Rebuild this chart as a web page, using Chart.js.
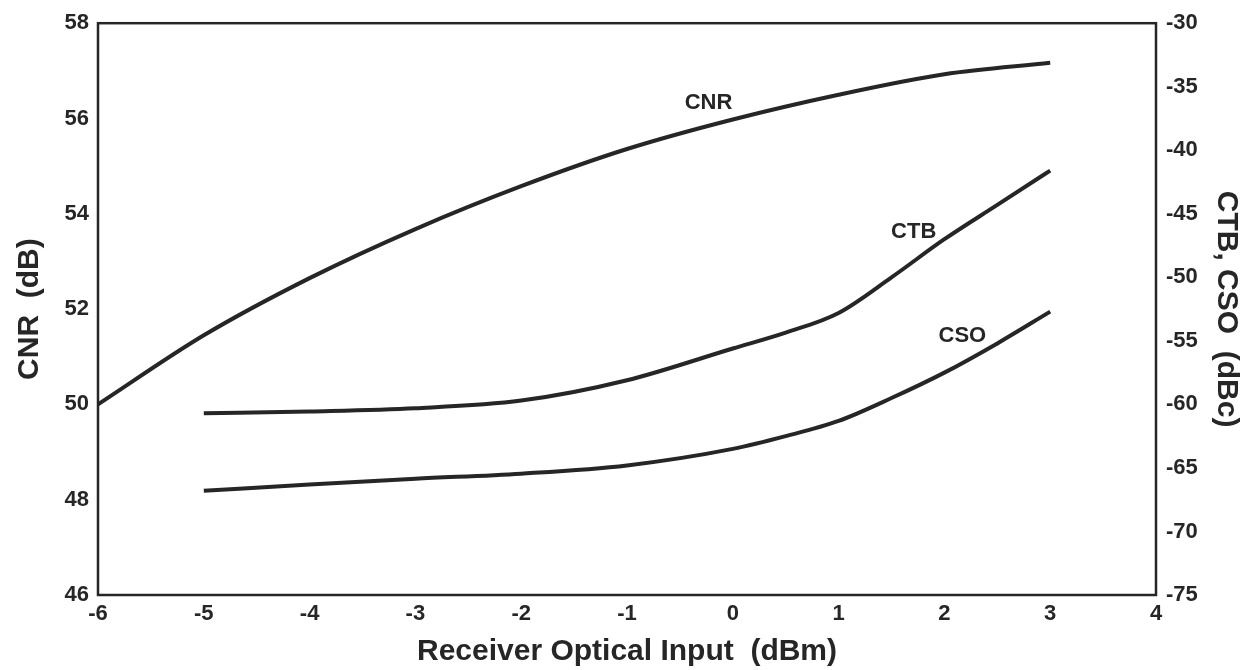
<!DOCTYPE html>
<html>
<head>
<meta charset="utf-8">
<script src="https://cdn.jsdelivr.net/npm/chart.js@4.4.1/dist/chart.umd.min.js"></script>
<style>
  body { margin: 0; background: #fff; }
</style>
</head>
<body>
<canvas id="chart" width="1254" height="670"></canvas>
<script>
// x positions (dBm) the curves were read at
const cnrX = [-6, -5, -4, -3, -2, -1, 0, 1, 2, 3];
const cnrY = [50.0, 51.45, 52.65, 53.68, 54.58, 55.36, 55.98, 56.5, 56.93, 57.17];

const distX = [-5, -4, -3, -2, -1, 0, 0.5, 1, 1.5, 2, 2.5, 3];
const ctbY = [-60.7, -60.55, -60.3, -59.7, -58.1, -55.6, -54.35, -52.8, -50.0, -47.0, -44.3, -41.6];
const csoY = [-66.8, -66.3, -65.85, -65.45, -64.8, -63.5, -62.5, -61.3, -59.5, -57.5, -55.2, -52.7];

// curve names written next to the lines
const curveNames = ['CNR', 'CTB', 'CSO'];
const nameX = [-0.23, 1.71, 2.17];
const nameY = [56.33, -46.4, -54.6];
const nameAxis = ['yL', 'yR', 'yR'];

const ink = '#262626';
const tickFont = { family: 'Liberation Sans, Arial, sans-serif', size: 22, weight: 'bold' };
const titleFont = { family: 'Liberation Sans, Arial, sans-serif', size: 30, weight: 'bold' };

const toPoints = (xs, ys) => xs.map((x, i) => ({ x: x, y: ys[i] }));

const framePlugin = {
    id: 'frame',
    afterDraw(chart) {
        const { ctx, chartArea: a } = chart;
        ctx.save();
        ctx.strokeStyle = ink;
        ctx.lineWidth = 2.5;
        ctx.strokeRect(a.left, a.top, a.right - a.left, a.bottom - a.top);

        ctx.fillStyle = ink;
        ctx.font = 'bold 22px "Liberation Sans", Arial, sans-serif';
        ctx.textAlign = 'center';
        ctx.textBaseline = 'middle';
        curveNames.forEach((name, i) => {
            const px = chart.scales.x.getPixelForValue(nameX[i]);
            const py = chart.scales[nameAxis[i]].getPixelForValue(nameY[i]);
            ctx.fillText(name, px, py);
        });
        ctx.restore();
    }
};

const lineStyle = {
    borderColor: ink,
    borderWidth: 4,
    pointRadius: 0,
    cubicInterpolationMode: 'monotone',
    fill: false
};

new Chart(document.getElementById('chart'), {
    type: 'line',
    data: {
        datasets: [
            Object.assign({ label: 'CNR', data: toPoints(cnrX, cnrY), yAxisID: 'yL' }, lineStyle),
            Object.assign({ label: 'CTB', data: toPoints(distX, ctbY), yAxisID: 'yR' }, lineStyle),
            Object.assign({ label: 'CSO', data: toPoints(distX, csoY), yAxisID: 'yR' }, lineStyle)
        ]
    },
    options: {
        responsive: false,
        animation: false,
        devicePixelRatio: 1,
        layout: { padding: { top: 21, left: 0, right: 0, bottom: 0 } },
        plugins: {
            legend: { display: false },
            tooltip: { enabled: false }
        },
        scales: {
            x: {
                type: 'linear',
                min: -6,
                max: 4,
                grid: { display: false, drawTicks: false },
                border: { display: false },
                ticks: { stepSize: 1, color: ink, font: tickFont, padding: 6 },
                title: {
                    display: true,
                    text: 'Receiver Optical Input  (dBm)',
                    color: ink,
                    font: titleFont,
                    padding: { top: 0, bottom: 0 }
                },
                afterFit(scale) { scale.height = 75; }
            },
            yL: {
                position: 'left',
                min: 46,
                max: 58,
                grid: { display: false, drawTicks: false },
                border: { display: false },
                ticks: { stepSize: 2, color: ink, font: tickFont, padding: 9 },
                title: {
                    display: true,
                    text: 'CNR  (dB)',
                    color: ink,
                    font: titleFont,
                    padding: { top: 12, bottom: 0 }
                },
                afterFit(scale) { scale.width = 98; }
            },
            yR: {
                position: 'right',
                min: -75,
                max: -30,
                grid: { display: false, drawTicks: false },
                border: { display: false },
                ticks: { stepSize: 5, color: ink, font: tickFont, padding: 10 },
                title: {
                    display: true,
                    text: 'CTB, CSO  (dBc)',
                    color: ink,
                    font: titleFont,
                    padding: { top: 10, bottom: 0 }
                },
                afterFit(scale) { scale.width = 98; }
            }
        }
    },
    plugins: [framePlugin]
});
</script>
</body>
</html>
